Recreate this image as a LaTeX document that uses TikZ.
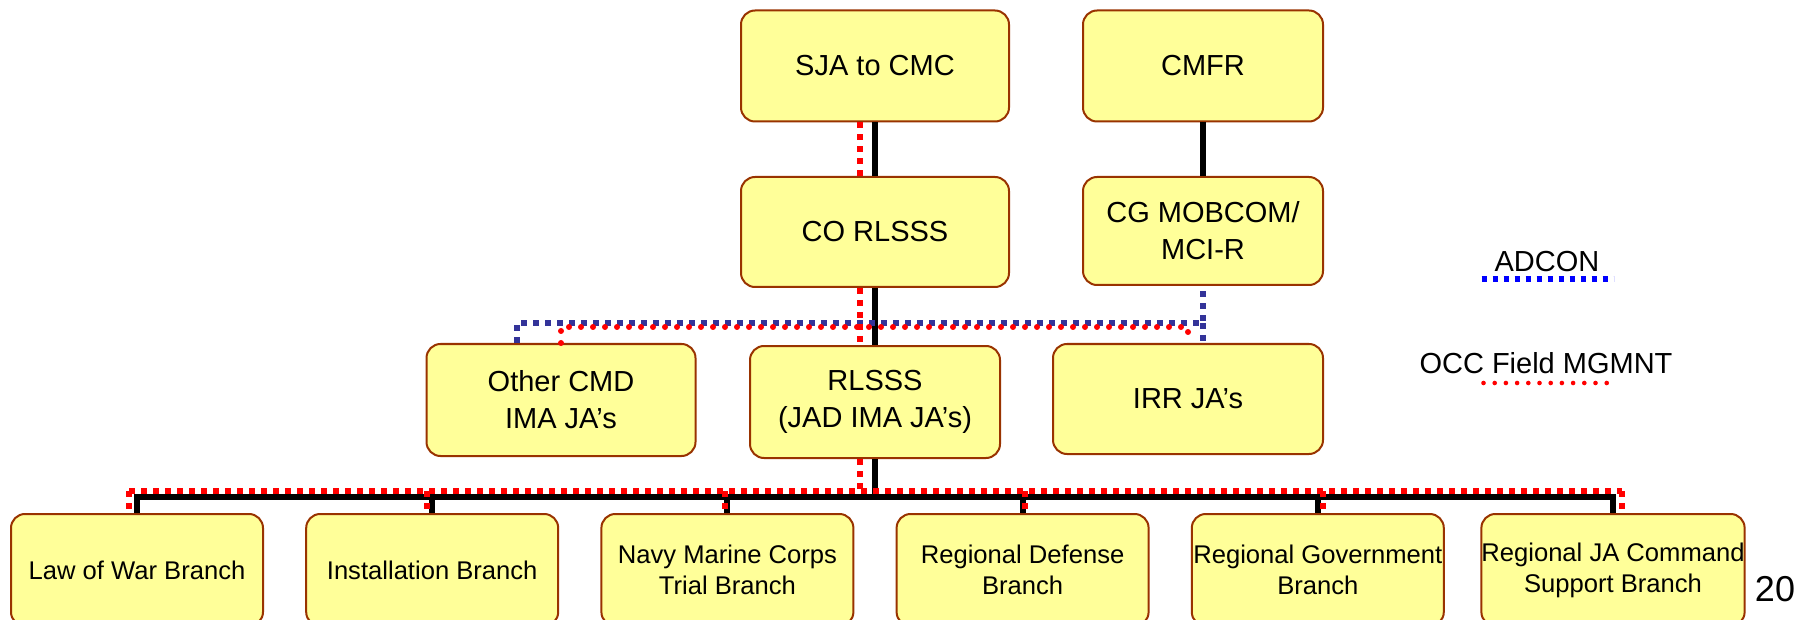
\documentclass[tikz,border=0pt]{standalone}
\usepackage{fontspec}
\setmainfont{Liberation Sans}
\definecolor{boxfill}{HTML}{FFFF99}
\definecolor{boxline}{HTML}{993300}
\definecolor{adconblue}{HTML}{333399}
\definecolor{keyblue}{HTML}{0000FF}
\begin{document}
\begin{tikzpicture}[x=0.5pt, y=-0.5pt,
    box/.style={
        rectangle,
        rounded corners=7pt,
        draw=boxline, line width=1pt,
        fill=boxfill,
        minimum width=134pt,
        minimum height=55.5pt,
        inner sep=0pt,
        align=center,
        font=\fontsize{14.5}{18.5}\selectfont},
    branch/.style={
        box,
        minimum width=126pt,
        minimum height=56pt,
        font=\fontsize{12.8}{15.6}\selectfont},
    command/.style={
        line width=3pt},
    occ/.style={
        red, line width=3pt,
        dash pattern=on 3pt off 3pt},
    occdots/.style={
        red, line width=3pt,
        line cap=round,
        dash pattern=on 0pt off 6pt},
    adcon/.style={
        adconblue, line width=3pt,
        dash pattern=on 3pt off 3pt},
    keytext/.style={
        font=\fontsize{14.5}{18.5}\selectfont}
    ]
    \useasboundingbox (0,0) rectangle (1810,620);

    \node (sja) [box] at (875,66) {SJA to CMC};
    \node (cmfr) [box, minimum width=120pt] at (1203,66) {CMFR};
    \node (corlsss) [box, minimum height=55pt] at (875,232) {CO RLSSS};
    \node (cgmob) [box, minimum width=120pt, minimum height=54pt] at (1203,231) {CG MOBCOM/\\MCI-R};
    \node (othercmd) [box, minimum width=134.5pt, minimum height=56pt] at (561,400) {Other CMD\\IMA JA’s};
    \node (rlsss) [box, minimum width=125pt, minimum height=56pt] at (875,402) {RLSSS\\(JAD IMA JA’s)};
    \node (irr) [box, minimum width=135pt, minimum height=55pt] at (1188,399) {IRR JA’s};

    \foreach \name/\txt [count=\i from 0] in {law/{Law of War Branch},
        inst/{Installation Branch},
        navy/{Navy Marine Corps\\Trial Branch},
        def/{Regional Defense\\Branch},
        gov/{Regional Government\\Branch},
        ja/{Regional JA Command\\Support Branch}}
        \node (\name) [branch] at (137+295.2*\i,570) {\txt};

    \coordinate (bus) at (875,497);
    \coordinate (occbus) at (875,491);
    \coordinate (occtop) at (875,327);
    \coordinate (adcontop) at (875,323);

    % command lines
    \draw [command] (sja) -- (corlsss);
    \draw [command] (cmfr) -- (cgmob);
    \draw [command] (corlsss) -- (rlsss);
    \draw [command] (rlsss.south) -- (bus);
    \draw [command, line cap=rect] (law.north |- bus) -- (ja.north |- bus);
    \foreach \name in {law,inst,navy,def,gov,ja}
        \draw [command] (\name.north |- bus) -- (\name.north);

    % adcon
    \draw [adcon] ([xshift=-22pt]othercmd.north) |- (adcontop) -| (cgmob.south);
    \draw [adcon] (cgmob.south |- adcontop) -- (cgmob.south |- irr.north);

    % occ field management
    \draw [occ] ([xshift=-7.5pt]sja.south) -- ([xshift=-7.5pt]corlsss.north);
    \draw [occ] ([xshift=-7.5pt]corlsss.south) -- ([xshift=-7.5pt]rlsss.north);
    \draw [occ] ([xshift=-7.5pt]rlsss.south) -- ([xshift=-7.5pt]rlsss.south |- occbus);
    \draw [occdots] (othercmd.north) |- (occtop) -| (irr.north);
    \draw [occ] ([xshift=-4pt]law.north |- occbus) -- ([xshift=4.5pt]ja.north |- occbus);
    \foreach \name/\off in {law/-4,inst/-2.5,navy/-1,def/1,gov/2.5,ja/4.5}
        \draw [occ] ([xshift=\off pt]\name.north |- occbus) -- ([xshift=\off pt]\name.north);

    % key
    \node (adconkey) [keytext] at (1547,262) {ADCON};
    \coordinate (adconline) at (1547.5,279);
    \draw [keyblue, line width=2.6pt, dash pattern=on 2.7pt off 2.8pt]
        ([xshift=-33pt]adconline) -- ([xshift=33pt]adconline);
    \node (occkey) [keytext] at (1546,363) {OCC Field MGMNT};
    \coordinate (occline) at (1547.5,383);
    \draw [red, line width=2.3pt, line cap=round, dash pattern=on 0pt off 5.6pt]
        ([xshift=-32pt]occline) -- ([xshift=33pt]occline);

    \node (page) [font=\fontsize{18}{22}\selectfont] at (1775,589) {20};
\end{tikzpicture}
\end{document}
